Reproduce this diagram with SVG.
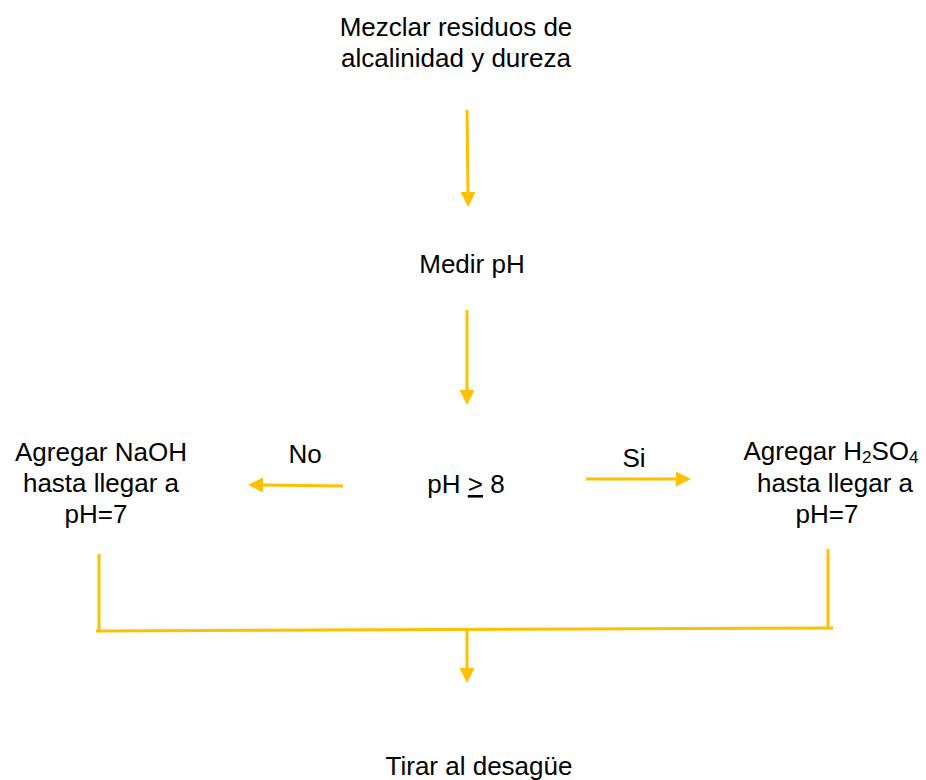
<svg xmlns="http://www.w3.org/2000/svg" width="926" height="780" viewBox="0 0 926 780">
  <style>
    .lbl { font-family: "Liberation Sans", Arial, sans-serif; font-size: 26px; fill: #000; text-anchor: middle; }
    .flow { stroke: #FFC000; stroke-width: 3; fill: none; }
    .arrow { marker-end: url(#head); }
  </style>
  <defs>
    <marker id="head" viewBox="0 0 15 15" refX="0" refY="7.5" markerWidth="15" markerHeight="15" markerUnits="userSpaceOnUse" orient="auto">
      <path d="M0,0 L15,7.5 L0,15 z" fill="#FFC000"/>
    </marker>
  </defs>
  <rect width="926" height="780" fill="#fff"/>

  <g id="connectors">
    <line class="flow arrow" x1="467" y1="110" x2="468" y2="192"/>
    <line class="flow arrow" x1="467" y1="310" x2="467" y2="390"/>
    <line class="flow arrow" x1="343" y1="486" x2="263" y2="485"/>
    <line class="flow arrow" x1="586" y1="479" x2="676" y2="479"/>
    <line class="flow" x1="99" y1="554" x2="99" y2="631"/>
    <line class="flow" x1="828" y1="549" x2="828" y2="628"/>
    <line class="flow" x1="96" y1="631" x2="833" y2="628"/>
    <line class="flow arrow" x1="467" y1="630" x2="467" y2="668"/>
    <text class="lbl" x="305" y="463">No</text>
    <text class="lbl" x="634" y="467">Si</text>
  </g>

  <g id="mezclar">
    <text class="lbl" x="456" y="36">Mezclar residuos de</text>
    <text class="lbl" x="456" y="67">alcalinidad y dureza</text>
  </g>

  <g id="medir">
    <text class="lbl" x="472" y="273">Medir pH</text>
  </g>

  <g id="decision">
    <text class="lbl" x="466" y="493">pH <tspan text-decoration="underline">&gt;</tspan> 8</text>
  </g>

  <g id="naoh">
    <text class="lbl" x="101" y="461">Agregar NaOH</text>
    <text class="lbl" x="101" y="492">hasta llegar a</text>
    <text class="lbl" x="96" y="523">pH=7</text>
  </g>

  <g id="h2so4">
    <text class="lbl" x="831" y="460">Agregar H<tspan font-size="17" dy="3">2</tspan><tspan dy="-3">SO</tspan><tspan font-size="17" dy="3">4</tspan></text>
    <text class="lbl" x="835" y="492">hasta llegar a</text>
    <text class="lbl" x="827" y="523">pH=7</text>
  </g>

  <g id="tirar">
    <text class="lbl" x="479" y="775">Tirar al desagüe</text>
  </g>
</svg>
